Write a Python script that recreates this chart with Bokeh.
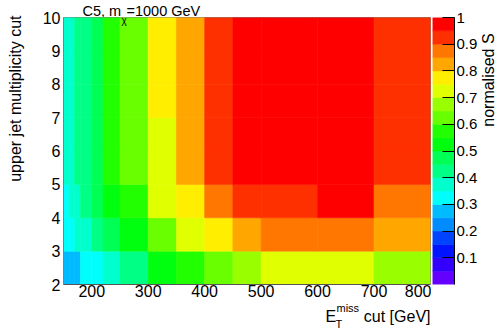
import math
from bokeh.plotting import figure
from bokeh.models import ColumnDataSource, LinearColorMapper, FixedTicker, CustomJSTickFormatter
from bokeh.layouts import row, column
from bokeh.embed import file_html
from bokeh.resources import INLINE
from bokeh.core.properties import value

# ---------------- data ----------------
# E_T^miss cut bin edges [GeV] and upper jet multiplicity cut bin edges
met_edges = [150, 160, 170, 180, 200, 220, 250, 300, 350, 400, 450, 500, 600, 700, 800]
njet_edges = [2, 3, 4, 5, 6, 7, 8, 9, 10]

# normalised S, one list per jet-multiplicity row (row's lower edge), one value per MET bin
s_nj2 = [0.27, 0.28, 0.29, 0.31, 0.33, 0.37, 0.42, 0.52, 0.57, 0.62, 0.67, 0.72, 0.73, 0.68]
s_nj3 = [0.31, 0.33, 0.36, 0.38, 0.43, 0.47, 0.53, 0.63, 0.72, 0.77, 0.83, 0.87, 0.88, 0.82]
s_nj4 = [0.34, 0.37, 0.39, 0.42, 0.48, 0.53, 0.58, 0.73, 0.78, 0.88, 0.92, 0.94, 0.97, 0.86]
s_nj5 = [0.36, 0.38, 0.41, 0.43, 0.47, 0.56, 0.63, 0.74, 0.83, 0.92, 0.96, 0.98, 0.99, 0.93]
s_nj6 = [0.37, 0.38, 0.42, 0.44, 0.48, 0.57, 0.64, 0.74, 0.84, 0.93, 0.97, 0.99, 0.99, 0.94]
s_nj7 = [0.37, 0.39, 0.42, 0.44, 0.49, 0.58, 0.64, 0.76, 0.84, 0.93, 0.97, 0.99, 0.99, 0.94]
s_nj8 = [0.37, 0.39, 0.43, 0.44, 0.49, 0.58, 0.64, 0.76, 0.84, 0.93, 0.97, 0.99, 0.99, 0.94]
s_nj9 = [0.38, 0.39, 0.43, 0.44, 0.49, 0.58, 0.64, 0.76, 0.84, 0.93, 0.98, 0.99, 0.99, 0.94]
s_rows = [s_nj2, s_nj3, s_nj4, s_nj5, s_nj6, s_nj7, s_nj8, s_nj9]

x_ticks = [200, 300, 400, 500, 600, 700, 800]
y_ticks = [2, 3, 4, 5, 6, 7, 8, 9, 10]
z_ticks = [0.1, 0.2, 0.3, 0.4, 0.5, 0.6, 0.7, 0.8, 0.9, 1.0]

# ROOT "pretty" palette, 20 contour levels
palette = ["#6300ff", "#3300ff", "#0014ff", "#0044ff", "#008bff", "#00bbff", "#00fffc",
           "#00ffcc", "#00ff85", "#00ff55", "#00ff0e", "#22ff00", "#69ff00", "#99ff00",
           "#e0ff00", "#ffee00", "#ffa700", "#ff7700", "#ff3000", "#ff0000"]

FONT = "Liberation Sans"
COMMON = dict(output_backend="svg", toolbar_location=None, tools="", title=None)


def strip(w, h):
    """A plain text canvas whose frame is the whole figure (pixel-like coordinates)."""
    f = figure(width=w, height=h, x_range=(0, w), y_range=(h, 0),
               x_axis_location=None, y_axis_location=None,
               min_border_left=0, min_border_right=0, min_border_top=0, min_border_bottom=0,
               **COMMON)
    f.xgrid.visible = False
    f.ygrid.visible = False
    f.outline_line_color = None
    return f


def txt(f, x, y, s, size, align="left", angle=0.0, dx=0, dy=0):
    f.text(x=x, y=y, text=[s], text_font=value(FONT), text_font_size=size,
           text_align=align, text_baseline="alphabetic", text_color="black",
           angle=angle, x_offset=dx, y_offset=dy)


# ---------------- main plot ----------------
left, right, bottom, top, sval = [], [], [], [], []
for j, vals in enumerate(s_rows):
    for i, v in enumerate(vals):
        left.append(met_edges[i]); right.append(met_edges[i + 1])
        bottom.append(njet_edges[j]); top.append(njet_edges[j + 1])
        sval.append(v)
src = ColumnDataSource(dict(left=left, right=right, bottom=bottom, top=top, s=sval))
mapper = LinearColorMapper(palette=palette, low=0, high=1)

x0, x1 = met_edges[0], met_edges[-1]
y0, y1 = njet_edges[0], njet_edges[-1]

p = figure(width=401, height=303, x_range=(x0, x1), y_range=(y0, y1),
           min_border_left=33, min_border_right=1, min_border_top=17, min_border_bottom=19,
           **COMMON)
p.border_fill_color = None          # lets the title strip underneath show through
p.quad(left="left", right="right", bottom="bottom", top="top", source=src,
       fill_color={"field": "s", "transform": mapper},
       line_color={"field": "s", "transform": mapper}, line_width=0.6)
p.xgrid.visible = False
p.ygrid.visible = False
p.outline_line_color = "#808080"

for ax in (p.xaxis[0], p.yaxis[0]):
    ax.major_tick_in = 0
    ax.major_tick_out = 0
    ax.minor_tick_in = 0
    ax.minor_tick_out = 0
    ax.major_label_text_font = FONT
    ax.major_label_text_font_size = "16px"
    ax.major_label_text_color = "black"
p.xaxis.ticker = FixedTicker(ticks=x_ticks)
p.yaxis.ticker = FixedTicker(ticks=y_ticks)
p.xaxis.major_label_standoff = 0
p.yaxis.major_label_standoff = 3
p.xaxis.axis_line_color = "#555555"
p.yaxis.axis_line_color = "#808080"

# subscript chi of the title (lies just inside the frame's top edge)
txt(p, [x0], [y1], "\u03c7", "10px", dx=58, dy=2.6)

# ---------------- colour bar ----------------
n = len(palette)
cb_src = ColumnDataSource(dict(bottom=[i / n for i in range(n)],
                               top=[(i + 1) / n for i in range(n)],
                               color=palette))
cb = figure(width=49, height=303, x_range=(0, 1), y_range=(0, 1),
            x_axis_location=None, y_axis_location="right",
            min_border_left=1, min_border_right=25, min_border_top=17, min_border_bottom=19,
            **COMMON)
cb.border_fill_color = None
cb.quad(left=0, right=1, bottom="bottom", top="top", fill_color="color", line_color="color",
        line_width=0.6, source=cb_src)
cb.xgrid.visible = False
cb.ygrid.visible = False
cb.outline_line_color = None
ax = cb.yaxis[0]
ax.ticker = FixedTicker(ticks=z_ticks)
ax.formatter = CustomJSTickFormatter(code="return tick > 0.999 ? '1' : tick.toFixed(1);")
ax.major_tick_in = 12
ax.major_tick_out = 0
ax.minor_tick_in = 0
ax.minor_tick_out = 0
ax.major_tick_line_color = "black"
ax.axis_line_color = "black"
ax.major_label_standoff = 2
ax.major_label_text_font = FONT
ax.major_label_text_font_size = "15px"
ax.major_label_text_color = "black"

# colour-bar title
cbl = strip(17, 303)
cbl.border_fill_color = None
cbl.background_fill_color = None
txt(cbl, [8], [18], "normalised S", "16px", align="right", angle=math.pi / 2)

# ---------------- titles ----------------
t_top = strip(467, 20)
t_top.margin = (0, 0, -20, 0)       # sits underneath the (transparent) top border of the plot
txt(t_top, [52], [10.3], "C5, m", "14.5px")
txt(t_top, [96], [10.3], "=1000 GeV", "14.5px")

t_left = strip(30, 303)
txt(t_left, [14.9], [15], "upper jet multiplicity cut", "16px", align="right", angle=math.pi / 2)

t_bot = strip(497, 26)
txt(t_bot, [325], [13.4], "E", "16px")
txt(t_bot, [336], [4.6], "miss", "11px")
txt(t_bot, [335], [20.3], "T", "11px")
txt(t_bot, [430], [13.4], "cut [GeV]", "16px", align="right")

layout = column(row(t_left, column(t_top, row(p, cb, cbl))), t_bot)
open("out.html", "w").write(file_html(layout, INLINE))
